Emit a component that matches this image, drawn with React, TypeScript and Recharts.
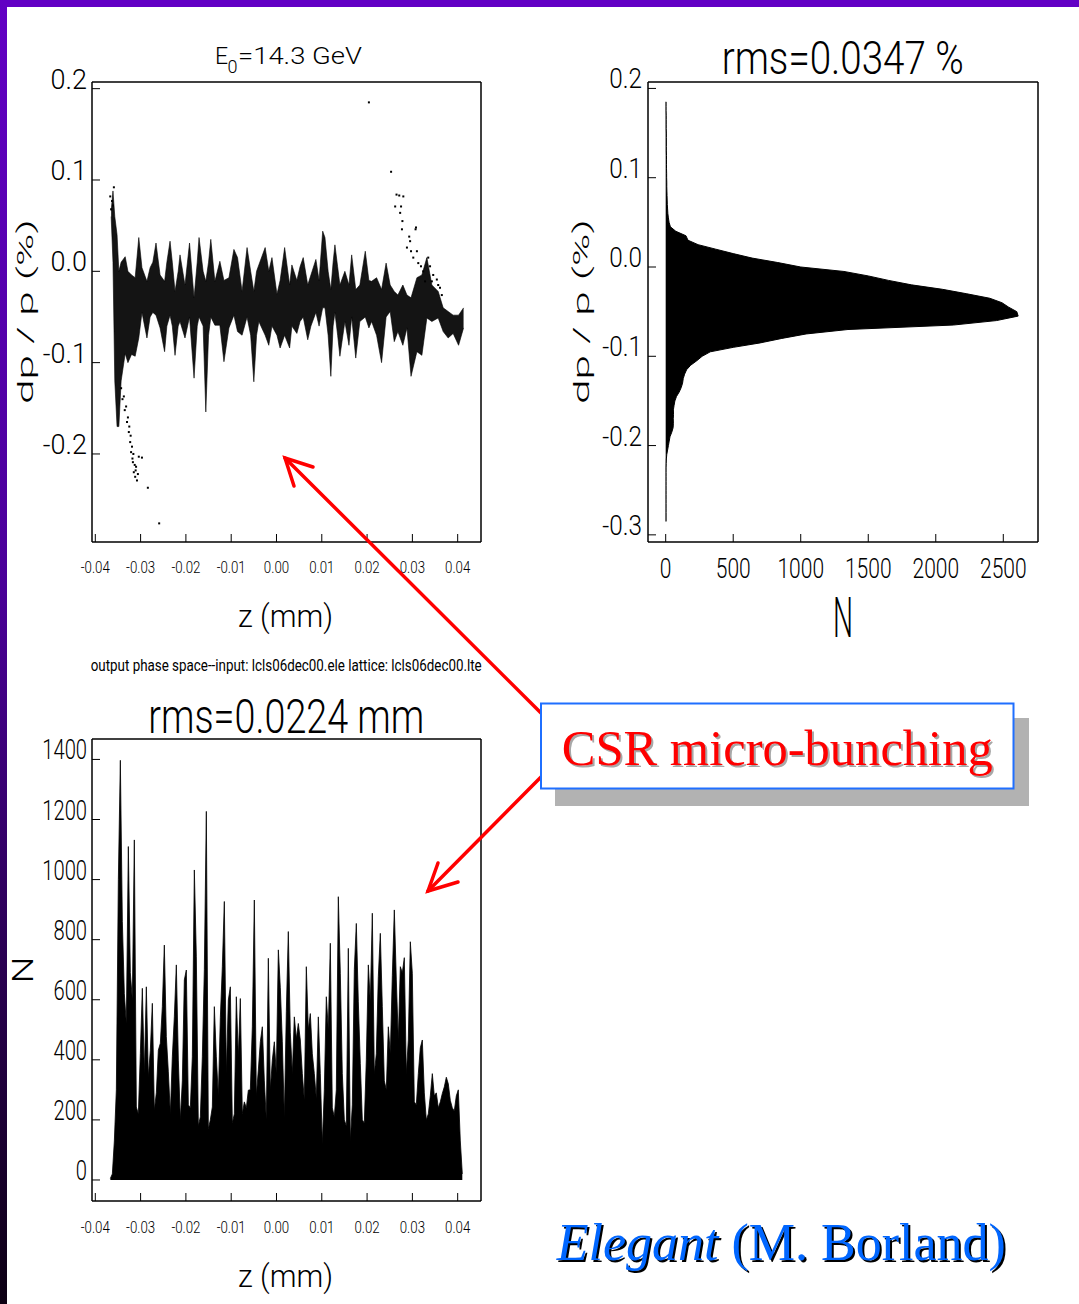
import React from "react";
import { Area, ComposedChart, Scatter, XAxis, YAxis } from "recharts";

// top-left panel: dp/p (%) against z (mm), read as upper/lower edge of the dense band
const bandZ = [
  -0.0365, -0.0361, -0.0357, -0.0352, -0.0348, -0.0343, -0.0334, -0.0328, -0.032, -0.0312,
  -0.0304, -0.0297, -0.0286, -0.0279, -0.0273, -0.0266, -0.0257, -0.0247, -0.0242, -0.0235,
  -0.023, -0.0224, -0.0217, -0.0213, -0.0202, -0.0192, -0.0182, -0.0175, -0.0171, -0.0162,
  -0.0156, -0.015, -0.0145, -0.0136, -0.0125, -0.0116, -0.0105, -0.0094, -0.0086, -0.0076,
  -0.0065, -0.0057, -0.005, -0.0044, -0.0039, -0.0025, -0.0017, -0.001, 0.0001, 0.0008,
  0.0018, 0.0029, 0.0034, 0.0045, 0.0052, 0.0059, 0.0069, 0.0076, 0.0087, 0.0094,
  0.0102, 0.0107, 0.0114, 0.012, 0.0125, 0.0129, 0.0135, 0.014, 0.0151, 0.016,
  0.0166, 0.0175, 0.0184, 0.0196, 0.0204, 0.021, 0.0221, 0.0232, 0.0242, 0.0251,
  0.026, 0.0268, 0.0279, 0.0288, 0.0297, 0.031, 0.0321, 0.0332, 0.0343, 0.0357,
  0.0368, 0.0379, 0.039, 0.0402, 0.0413,
];
const bandHi = [
  0.066, 0.088, 0.06, 0.04, 0.0, 0.01, 0.016, 0.0, -0.004, -0.007,
  0.037, 0.004, -0.011, 0.004, 0.01, 0.031, -0.004, -0.011, 0.01, 0.033,
  0.01, -0.022, 0.0, 0.018, -0.015, 0.031, -0.029, 0.01, 0.037, 0.0,
  -0.011, 0.01, 0.035, -0.011, 0.011, -0.01, -0.007, 0.024, 0.015, -0.022,
  0.026, 0.0, -0.022, 0.0, 0.007, 0.026, 0.0, 0.015, -0.025, -0.01,
  0.026, -0.015, 0.007, -0.01, 0.005, 0.015, -0.015, -0.004, 0.013, -0.01,
  0.044, 0.037, 0.0, -0.02, 0.01, 0.029, 0.005, -0.015, 0.0, -0.015,
  0.018, -0.02, -0.015, 0.022, -0.01, -0.011, -0.007, -0.02, 0.009, -0.015,
  -0.022, -0.026, -0.015, -0.026, -0.029, -0.007, -0.004, 0.015, -0.015, -0.022,
  -0.04, -0.044, -0.048, -0.048, -0.04,
];
const bandLo = [
  0.06, 0.01, -0.12, -0.17, -0.17, -0.12, -0.09, -0.1, -0.091, -0.093,
  -0.073, -0.045, -0.073, -0.05, -0.045, -0.048, -0.062, -0.088, -0.06, -0.048,
  -0.06, -0.092, -0.06, -0.055, -0.073, -0.05, -0.117, -0.06, -0.05, -0.06,
  -0.154, -0.07, -0.05, -0.059, -0.059, -0.099, -0.062, -0.048, -0.066, -0.07,
  -0.05, -0.07, -0.121, -0.07, -0.055, -0.07, -0.081, -0.06, -0.07, -0.084,
  -0.07, -0.084, -0.06, -0.068, -0.055, -0.05, -0.075, -0.06, -0.045, -0.06,
  -0.04, -0.04, -0.07, -0.115, -0.06, -0.045, -0.07, -0.093, -0.055, -0.081,
  -0.05, -0.095, -0.055, -0.05, -0.062, -0.055, -0.07, -0.1, -0.05, -0.044,
  -0.077, -0.066, -0.081, -0.062, -0.115, -0.088, -0.092, -0.051, -0.055, -0.051,
  -0.066, -0.073, -0.068, -0.081, -0.062,
];
// isolated particles outside the band: [z, dp/p]
const strayPoints: [number, number][] = [
  [-0.0367, 0.082], [-0.0363, 0.077], [-0.0359, 0.092], [-0.0365, 0.068], [-0.0361, 0.072],
  [-0.0343, -0.128], [-0.034, -0.14], [-0.0337, -0.137], [-0.0335, -0.152], [-0.0332, -0.148],
  [-0.033, -0.165], [-0.0328, -0.16], [-0.0326, -0.176], [-0.0325, -0.17], [-0.0323, -0.187],
  [-0.0322, -0.18], [-0.0321, -0.198], [-0.0319, -0.192], [-0.0318, -0.205], [-0.0317, -0.209],
  [-0.0316, -0.2], [-0.0315, -0.22], [-0.0313, -0.212], [-0.0312, -0.225], [-0.0311, -0.218],
  [-0.031, -0.214], [-0.0308, -0.229], [-0.0306, -0.222], [-0.0304, -0.203], [-0.0297, -0.204],
  [-0.0284, -0.237], [-0.0259, -0.276],
  [0.0204, 0.185], [0.0253, 0.109], [0.0262, 0.071], [0.0265, 0.084], [0.0271, 0.083],
  [0.028, 0.082], [0.0273, 0.064], [0.0275, 0.071], [0.0278, 0.055], [0.0277, 0.046],
  [0.0293, 0.038], [0.0307, 0.046], [0.0308, 0.048], [0.0295, 0.033], [0.0288, 0.026],
  [0.0297, 0.022], [0.0302, 0.015], [0.031, 0.022], [0.0313, 0.009], [0.0319, 0.0055],
  [0.0335, 0.015], [0.0339, 0.0055], [0.0343, -0.011], [0.0354, -0.009], [0.0357, -0.015],
  [0.0361, -0.018], [0.0324, 0.0], [0.0328, -0.011], [0.0346, -0.004], [0.0365, -0.026],
];

// top-right panel: histogram of dp/p, bins from +0.185 downwards
const dpStart = 0.185;
const dpStep = 0.005;
const dpCounts = [
  3, 3, 3, 4, 4, 4, 4, 5, 5, 5,
  5, 5, 6, 6, 6, 6, 7, 7, 8, 8,
  9, 10, 11, 12, 14, 16, 20, 25, 35, 75,
  150, 165, 240, 370, 500, 640, 830, 1000, 1320, 1500,
  1650, 1820, 2050, 2230, 2400, 2490, 2540, 2600, 2610, 2450,
  2130, 1350, 1040, 860, 700, 500, 330, 270, 230, 185,
  155, 140, 130, 125, 115, 100, 80, 68, 62, 57,
  58, 56, 57, 55, 45, 32, 26, 20, 14, 8,
  5, 4, 3, 3, 3, 3, 3, 3, 3, 3,
  3, 3, 3, 3, 3,
];

// bottom panel: histogram of z
const zStart = -0.03668;
const zStep = 0.0004415;
const zCounts = [
  5, 20, 130, 300, 1000, 1397, 860, 620, 520, 1110,
  690, 600, 1132, 243, 220, 421, 638, 354, 643, 343,
  432, 588, 232, 290, 432, 455, 577, 782, 477, 360,
  220, 410, 543, 716, 399, 200, 330, 666, 699, 250,
  240, 410, 1032, 743, 180, 210, 410, 700, 1227, 170,
  200, 243, 577, 410, 280, 540, 710, 927, 354, 599,
  643, 190, 220, 610, 410, 604, 220, 260, 240, 299,
  300, 510, 932, 280, 366, 460, 510, 330, 200, 738,
  300, 399, 460, 354, 766, 640, 460, 210, 560, 827,
  490, 354, 543, 470, 521, 466, 354, 266, 710, 500,
  554, 420, 354, 270, 543, 354, 120, 300, 610, 500,
  788, 240, 210, 300, 943, 688, 354, 200, 180, 771,
  130, 250, 700, 854, 593, 388, 200, 190, 400, 716,
  593, 888, 354, 420, 677, 821, 577, 330, 300, 510,
  420, 680, 899, 666, 466, 710, 690, 740, 354, 466,
  793, 688, 260, 250, 354, 440, 466, 290, 200, 220,
  280, 354, 280, 290, 240, 260, 288, 310, 342, 320,
  265, 240, 230, 280, 300, 130, 20,
];

const zTicks = [-0.04, -0.03, -0.02, -0.01, 0, 0.01, 0.02, 0.03, 0.04];
const dpTicksTop = [-0.2, -0.1, 0, 0.1, 0.2];
const dpTicksHist = [-0.3, -0.2, -0.1, 0, 0.1, 0.2];
const nTicksDp = [0, 500, 1000, 1500, 2000, 2500];
const nTicksZ = [0, 200, 400, 600, 800, 1000, 1200, 1400];

const bandData = bandZ.map((z, i) => ({ z, range: [bandLo[i], bandHi[i]] }));
const strayData = strayPoints.map(([z, dp]) => ({ z, dp }));
const dpData = dpCounts.map((n, i) => ({ dp: +(dpStart - i * dpStep).toFixed(3), n }));
const zData = zCounts.map((n, i) => ({ z: zStart + i * zStep, n }));

const Z_DOMAIN: [number, number] = [-0.04073, 0.04515];
const FONT = "Roboto, 'Open Sans', sans-serif";
const frame = { stroke: "#000", strokeWidth: 1.5 };
const tickLn = { stroke: "#000", strokeWidth: 1 };

function tickText(size: number, anchor: string, sx: number, fmt: (v: number) => string) {
  return (props: any) => (
    <text
      transform={`translate(${props.x},${props.y}) scale(${sx},1)`}
      textAnchor={anchor}
      fontSize={size}
      fontFamily={FONT}
      fontWeight={300}
      fill="#000"
    >
      {fmt(props.payload.value)}
    </text>
  );
}

const dot = (p: any) => <rect x={p.cx - 1} y={p.cy - 1} width={2} height={2} fill="#000" />;

function PhaseSpace() {
  const dom: [number, number] = [-0.2964, 0.2073];
  return (
    <ComposedChart width={500} height={600} data={bandData} margin={{ top: 81, right: 18, bottom: 0, left: 0 }}>
      <XAxis xAxisId="b" type="number" dataKey="z" domain={Z_DOMAIN} ticks={zTicks} allowDataOverflow interval={0}
        height={58} tickSize={-8} tickMargin={39} axisLine={frame} tickLine={tickLn}
        tick={tickText(16, "middle", 0.83, (v) => v.toFixed(2))} />
      <XAxis xAxisId="t" orientation="top" type="number" dataKey="z" domain={Z_DOMAIN} ticks={zTicks} allowDataOverflow
        interval={0} height={1} tickSize={-8} axisLine={frame} tickLine={tickLn} tick={false} />
      <YAxis yAxisId="l" type="number" dataKey="dp" domain={dom} ticks={dpTicksTop} allowDataOverflow
        interval={0} width={92} tickSize={-8} tickMargin={13} axisLine={frame} tickLine={tickLn}
        tick={tickText(27, "end", 1, (v) => v.toFixed(1))} />
      <YAxis yAxisId="r" orientation="right" type="number" dataKey="dp" domain={dom} ticks={dpTicksTop}
        allowDataOverflow interval={0} width={1} tickSize={-8} axisLine={frame} tickLine={tickLn} tick={false} />
      <Area xAxisId="b" yAxisId="l" dataKey="range" type="linear" fill="#000" fillOpacity={0.92} stroke="#000"
        strokeWidth={0.6} isAnimationActive={false} />
      <Scatter xAxisId="b" yAxisId="l" data={strayData} dataKey="dp" shape={dot} isAnimationActive={false} />
    </ComposedChart>
  );
}

function DpHistogram() {
  const dom: [number, number] = [-0.308, 0.2072];
  const nDom: [number, number] = [-131, 2757];
  return (
    <ComposedChart layout="vertical" width={539} height={600} data={dpData} margin={{ top: 81, right: 40, bottom: 0, left: 0 }}>
      <XAxis xAxisId="b" type="number" domain={nDom} ticks={nTicksDp} allowDataOverflow interval={0}
        height={58} tickSize={-8} tickMargin={44} axisLine={frame} tickLine={tickLn}
        tick={tickText(28, "middle", 0.75, (v) => String(v))} />
      <XAxis xAxisId="t" orientation="top" type="number" domain={nDom} ticks={nTicksDp} allowDataOverflow interval={0}
        height={1} tickSize={-8} axisLine={frame} tickLine={tickLn} tick={false} />
      <YAxis yAxisId="l" type="number" dataKey="dp" domain={dom} ticks={dpTicksHist} allowDataOverflow interval={0}
        reversed width={108} tickSize={-8} tickMargin={14} axisLine={frame} tickLine={tickLn}
        tick={tickText(27, "end", 0.9, (v) => v.toFixed(1))} />
      <YAxis yAxisId="r" orientation="right" type="number" dataKey="dp" domain={dom} ticks={dpTicksHist}
        reversed allowDataOverflow interval={0} width={1} tickSize={-8} axisLine={frame} tickLine={tickLn} tick={false} />
      <Area xAxisId="b" yAxisId="l" dataKey="n" type="linear" baseValue={0} fill="#000" fillOpacity={1}
        stroke="#000" strokeWidth={1} isAnimationActive={false} />
    </ComposedChart>
  );
}

function ZHistogram() {
  const dom: [number, number] = [-70, 1468];
  return (
    <ComposedChart width={500} height={600} data={zData} margin={{ top: 78, right: 18, bottom: 0, left: 0 }}>
      <XAxis xAxisId="b" type="number" dataKey="z" domain={Z_DOMAIN} ticks={zTicks} allowDataOverflow interval={0}
        height={59} tickSize={-8} tickMargin={40} axisLine={frame} tickLine={tickLn}
        tick={tickText(16, "middle", 0.83, (v) => v.toFixed(2))} />
      <XAxis xAxisId="t" orientation="top" type="number" dataKey="z" domain={Z_DOMAIN} ticks={zTicks} allowDataOverflow
        interval={0} height={1} tickSize={-8} axisLine={frame} tickLine={tickLn} tick={false} />
      <YAxis yAxisId="l" type="number" domain={dom} ticks={nTicksZ} allowDataOverflow interval={0}
        width={92} tickSize={-8} tickMargin={13} axisLine={frame} tickLine={tickLn}
        tick={tickText(28, "end", 0.72, (v) => String(v))} />
      <YAxis yAxisId="r" orientation="right" type="number" domain={dom} ticks={nTicksZ} allowDataOverflow interval={0}
        width={1} tickSize={-8} axisLine={frame} tickLine={tickLn} tick={false} />
      <Area xAxisId="b" yAxisId="l" dataKey="n" type="linear" baseValue={0} fill="#000" fillOpacity={1}
        stroke="#000" strokeWidth={0.8} isAnimationActive={false} />
    </ComposedChart>
  );
}

function Overlay() {
  const t = { fontFamily: FONT, fontWeight: 300, fill: "#000" } as const;
  const serif = "'Liberation Serif', 'Times New Roman', serif";
  return (
    <svg width={1079} height={1304} style={{ position: "absolute", left: 0, top: 0, pointerEvents: "none" }}>
      <defs>
        <linearGradient id="edge" x1="0" y1="0" x2="0" y2="1">
          <stop offset="0" stopColor="#6200c4" />
          <stop offset="0.45" stopColor="#4a0098" />
          <stop offset="1" stopColor="#0c0012" />
        </linearGradient>
      </defs>
      <rect x={0} y={0} width={1079} height={7} fill="#6200c4" />
      <rect x={0} y={0} width={7} height={1304} fill="url(#edge)" />

      {/* panel titles */}
      <text {...t} x={215} y={64.3} fontSize={23}>E</text>
      <text {...t} x={227.5} y={73} fontSize={18}>0</text>
      <text {...t} x={238} y={64.3} fontSize={23} textLength={124} lengthAdjust="spacingAndGlyphs">=14.3 GeV</text>
      <text {...t} x={721.7} y={74.3} fontSize={47} textLength={242} lengthAdjust="spacingAndGlyphs">rms=0.0347 %</text>
      <text {...t} x={148.3} y={733.3} fontSize={48} textLength={276} lengthAdjust="spacingAndGlyphs">rms=0.0224 mm</text>

      {/* axis titles */}
      <text {...t} x={238} y={626.7} fontSize={32} textLength={95} lengthAdjust="spacingAndGlyphs">z (mm)</text>
      <text {...t} x={238} y={1286.7} fontSize={32} textLength={95} lengthAdjust="spacingAndGlyphs">z (mm)</text>
      <text {...t} x={833} y={637} fontSize={56} textLength={20} lengthAdjust="spacingAndGlyphs">N</text>
      <text {...t} transform="translate(33,311.5) rotate(-90)" textAnchor="middle" fontSize={22} textLength={185}
        lengthAdjust="spacingAndGlyphs">dp / p (%)</text>
      <text {...t} transform="translate(589,311.5) rotate(-90)" textAnchor="middle" fontSize={22} textLength={185}
        lengthAdjust="spacingAndGlyphs">dp / p (%)</text>
      <text {...t} transform="translate(33.3,970) rotate(-90)" textAnchor="middle" fontSize={30} textLength={27}
        lengthAdjust="spacingAndGlyphs">N</text>

      <text x={90.7} y={670.7} fontFamily={FONT} fontWeight={400} fontSize={17} textLength={391}
        lengthAdjust="spacingAndGlyphs" fill="#000">
        output phase space--input: lcls06dec00.ele lattice: lcls06dec00.lte
      </text>

      {/* arrows */}
      <g stroke="#ff0000" strokeWidth={3.5} strokeLinecap="round" fill="none">
        <line x1={541} y1={713} x2={285} y2={458} />
        <polyline points="313,467 285,458 294,486" />
        <line x1={541} y1={777} x2={428} y2={891} />
        <polyline points="458,882 428,891 438,863" />
      </g>

      {/* CSR box */}
      <rect x={555} y={718} width={474} height={88} fill="#b2b2b2" />
      <rect x={541} y={703.5} width={472.5} height={85} fill="#fff" stroke="#1f6fff" strokeWidth={2} />
      <text x={563.7} y={767} fontFamily={serif} fontSize={50} textLength={431} lengthAdjust="spacingAndGlyphs"
        fill="#a8a8a8">CSR micro-bunching</text>
      <text x={561.7} y={765} fontFamily={serif} fontSize={50} textLength={431} lengthAdjust="spacingAndGlyphs"
        fill="#ff0000">CSR micro-bunching</text>

      {/* credit */}
      <text x={558.7} y={1262} fontFamily={serif} fontSize={52} fill="#000">
        <tspan fontStyle="italic">Elegant</tspan> (M. Borland)
      </text>
      <text x={556.7} y={1260} fontFamily={serif} fontSize={52} fill="#0066ff">
        <tspan fontStyle="italic">Elegant</tspan> (M. Borland)
      </text>
    </svg>
  );
}

export default function App() {
  return (
    <div style={{ position: "absolute", left: 0, top: 0, width: 1079, height: 1304, background: "#fff", overflow: "hidden" }}>
      <div style={{ position: "absolute", left: 0, top: 0 }}>
        <PhaseSpace />
      </div>
      <div style={{ position: "absolute", left: 540, top: 0 }}>
        <DpHistogram />
      </div>
      <div style={{ position: "absolute", left: 0, top: 660 }}>
        <ZHistogram />
      </div>
      <Overlay />
    </div>
  );
}
